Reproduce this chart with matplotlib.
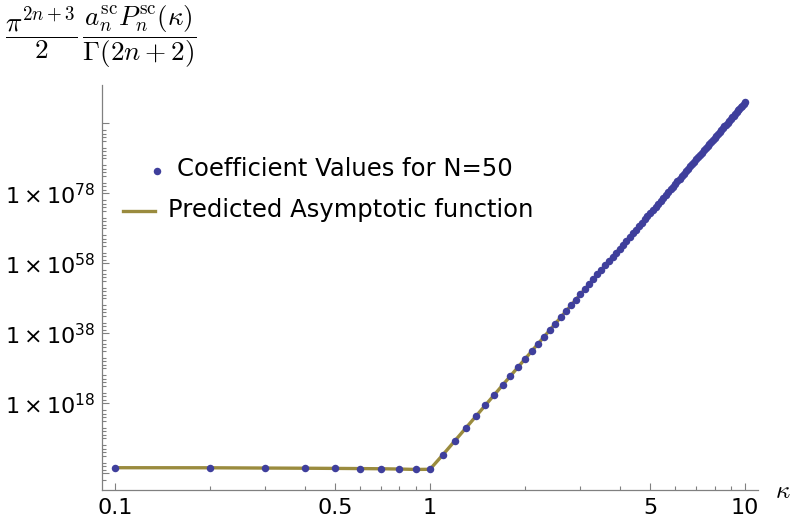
import numpy as np
import matplotlib
matplotlib.use("Agg")
import matplotlib.pyplot as plt
from matplotlib.ticker import FixedLocator, FixedFormatter, NullFormatter
from matplotlib.lines import Line2D

# ---- data ----
kappa = [0.1, 0.2, 0.3, 0.4, 0.5, 0.6, 0.7, 0.8, 0.9, 1.0,
         1.1, 1.2, 1.3, 1.4, 1.5, 1.6, 1.7, 1.8, 1.9, 2.0,
         2.1, 2.2, 2.3, 2.4, 2.5, 2.6, 2.7, 2.8, 2.9, 3.0,
         3.1, 3.2, 3.3, 3.4, 3.5, 3.6, 3.7, 3.8, 3.9, 4.0,
         4.1, 4.2, 4.3, 4.4, 4.5, 4.6, 4.7, 4.8, 4.9, 5.0,
         5.1, 5.2, 5.3, 5.4, 5.5, 5.6, 5.7, 5.8, 5.9, 6.0,
         6.1, 6.2, 6.3, 6.4, 6.5, 6.6, 6.7, 6.8, 6.9, 7.0,
         7.1, 7.2, 7.3, 7.4, 7.5, 7.6, 7.7, 7.8, 7.9, 8.0,
         8.1, 8.2, 8.3, 8.4, 8.5, 8.6, 8.7, 8.8, 8.9, 9.0,
         9.1, 9.2, 9.3, 9.4, 9.5, 9.6, 9.7, 9.8, 9.9, 10.0]

# log10 of the plotted coefficient values
coef_log10 = [-0.40, -0.42, -0.50, -0.55, -0.60, -0.65, -0.70, -0.78, -0.90, -0.85,
              3.35, 7.31, 10.96, 14.34, 17.49, 20.43, 23.20, 25.80, 28.27, 30.61,
              32.83, 34.95, 36.98, 38.92, 40.78, 42.57, 44.29, 45.95, 47.55, 49.10,
              50.59, 52.04, 53.44, 54.81, 56.13, 57.41, 58.66, 59.88, 61.06, 62.22,
              63.34, 64.44, 65.51, 66.56, 67.59, 68.59, 69.57, 70.53, 71.47, 72.39,
              73.29, 74.18, 75.05, 75.90, 76.74, 77.56, 78.37, 79.16, 79.94, 80.71,
              81.46, 82.20, 82.93, 83.65, 84.36, 85.05, 85.74, 86.41, 87.08, 87.74,
              88.38, 89.02, 89.65, 90.27, 90.88, 91.49, 92.08, 92.67, 93.25, 93.82,
              94.39, 94.95, 95.50, 96.05, 96.59, 97.12, 97.65, 98.17, 98.69, 99.20,
              99.70, 100.20, 100.69, 101.18, 101.66, 102.14, 102.61, 103.08, 103.54, 104.00]

# predicted asymptotic function (visually coincident with the coefficients)
pred_log10 = list(coef_log10)

x_tick_values = [0.1, 0.5, 1, 5, 10]
x_tick_labels = ["0.1", "0.5", "1", "5", "10"]
x_minor_values = [0.2, 0.3, 0.4, 0.6, 0.7, 0.8, 0.9, 2, 3, 4, 6, 7, 8, 9]
y_major_exponents = [-2, 18, 38, 58, 78, 98]
y_major_labels = ["", r"$1\times10^{18}$", r"$1\times10^{38}$", r"$1\times10^{58}$",
                  r"$1\times10^{78}$", ""]

series_labels = ["Coefficient Values for N=50", "Predicted Asymptotic function"]

# ---- figure ----
W, H = 793, 526
fig = plt.figure(figsize=(W / 100, H / 100), dpi=100)

def fx(px):
    return px / W

def fy(py):
    return 1 - py / H

left, right, top, bottom = 101.7, 758.0, 85.0, 490.0
ax = fig.add_axes([fx(left), fy(bottom), fx(right) - fx(left), (bottom - top) / H])

dot_color = "#3f3f9c"
line_color = "#9a8b3e"
axis_color = "#808080"

coef = np.power(10.0, np.array(coef_log10))
pred = np.power(10.0, np.array(pred_log10))

ax.plot(kappa, pred, color=line_color, lw=2.4, solid_capstyle="round", zorder=2)
ax.plot(kappa, coef, "o", color=dot_color, ms=5.4, mec="none", zorder=3)

ax.set_xscale("log")
ax.set_yscale("log")
ax.set_xlim(10 ** -1.042, 10 ** 1.041)
ax.set_ylim(10 ** -6.77, 10 ** 108.94)

for s in ["top", "right"]:
    ax.spines[s].set_visible(False)
for s in ["left", "bottom"]:
    ax.spines[s].set_color(axis_color)
    ax.spines[s].set_linewidth(0.9)

ax.xaxis.set_major_locator(FixedLocator(x_tick_values))
ax.xaxis.set_major_formatter(FixedFormatter(x_tick_labels))
ax.xaxis.set_minor_locator(FixedLocator(x_minor_values))
ax.xaxis.set_minor_formatter(NullFormatter())

ymaj = [10.0 ** e for e in y_major_exponents]
ymin = [10.0 ** k for k in range(-4, 98)
        if k not in y_major_exponents and k % 5 != 2]
ax.yaxis.set_major_locator(FixedLocator(ymaj))
ax.yaxis.set_major_formatter(FixedFormatter(y_major_labels))
ax.yaxis.set_minor_locator(FixedLocator(ymin))
ax.yaxis.set_minor_formatter(NullFormatter())

ax.tick_params(which="major", direction="in", length=5.0, width=0.8,
               color=axis_color, labelsize=16, labelcolor="black")
ax.tick_params(which="minor", direction="in", length=2.6, width=0.8,
               color=axis_color)
ax.tick_params(axis="x", which="major", pad=6.0)
ax.tick_params(axis="y", which="major", pad=4.5)

# axis labels
fig.text(fx(5), fy(37), r"$\dfrac{\pi^{2n+3}}{2}\,\dfrac{a_n^{\mathrm{sc}}P_n^{\mathrm{sc}}(\kappa)}{\Gamma(2n+2)}$",
         ha="left", va="center", fontsize=19.5, math_fontfamily="cm")
fig.text(fx(775), fy(491), r"$\kappa$", ha="left", va="center", fontsize=18,
         math_fontfamily="cm")

# legend (drawn manually)
fig.add_artist(Line2D([fx(156.7)], [fy(170.5)], marker="o", ms=5.4, color=dot_color,
                      mec="none", transform=fig.transFigure))
fig.text(fx(177), fy(176), series_labels[0], ha="left", va="baseline", fontsize=17.5)
fig.add_artist(Line2D([fx(123), fx(155)], [fy(211), fy(211)], color=line_color, lw=2.4,
                      transform=fig.transFigure))
fig.text(fx(167.5), fy(216.5), series_labels[1], ha="left", va="baseline", fontsize=17.5)

fig.savefig("out.png", dpi=100)
